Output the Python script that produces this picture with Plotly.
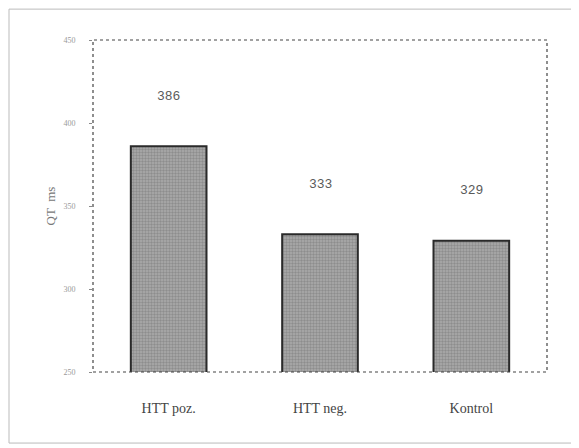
import plotly.graph_objects as go

categories = ["HTT poz.", "HTT neg.", "Kontrol"]
values = [386, 333, 329]
value_labels = ["386", "333", "329"]
y_ticks = [250, 300, 350, 400, 450]

fig = go.Figure()
fig.add_trace(go.Bar(
    x=categories, y=values, width=0.5,
    marker=dict(
        color="#9a9a9a",
        pattern=dict(shape=".", fgcolor="#707070", bgcolor="#ababab", size=3, solidity=0.5),
        line=dict(color="#2a2a2a", width=2),
    ),
    showlegend=False,
))

for c, v, t in zip(categories, values, value_labels):
    fig.add_annotation(x=c, y=v, text=t, showarrow=False, yanchor="middle", yshift=50,
                       font=dict(family="Liberation Mono", size=13, color="#5a5a5a"))

# plot area dotted frame
fig.add_shape(type="rect", xref="paper", yref="paper", x0=0, y0=0, x1=1, y1=1,
              line=dict(color="#444444", width=1.2, dash="dot"))
# outer page frame
fig.add_shape(type="rect", xref="paper", yref="paper", x0=-0.185, y0=-0.214, x1=1.062, y1=1.093,
              line=dict(color="#bbbbbb", width=1))

fig.update_layout(
    width=571, height=440,
    margin=dict(l=85, r=32, t=32, b=76),
    paper_bgcolor="white", plot_bgcolor="white",
    bargap=0.5,
    xaxis=dict(
        showline=False, showgrid=False, ticks="",
        ticklabelstandoff=26,
        tickfont=dict(family="Liberation Serif", size=14, color="#444444"),
    ),
    yaxis=dict(
        range=[250, 450], tickvals=y_ticks,
        showgrid=False, zeroline=False, showline=False,
        ticks="outside", ticklen=3, tickcolor="#888888",
        ticklabelstandoff=12,
        tickfont=dict(family="Liberation Serif", size=8, color="#999999"),
        title=dict(text="QT  ms", font=dict(family="Liberation Serif", size=13, color="#777777"), standoff=4),
    ),
)

fig.write_html("out.html")
